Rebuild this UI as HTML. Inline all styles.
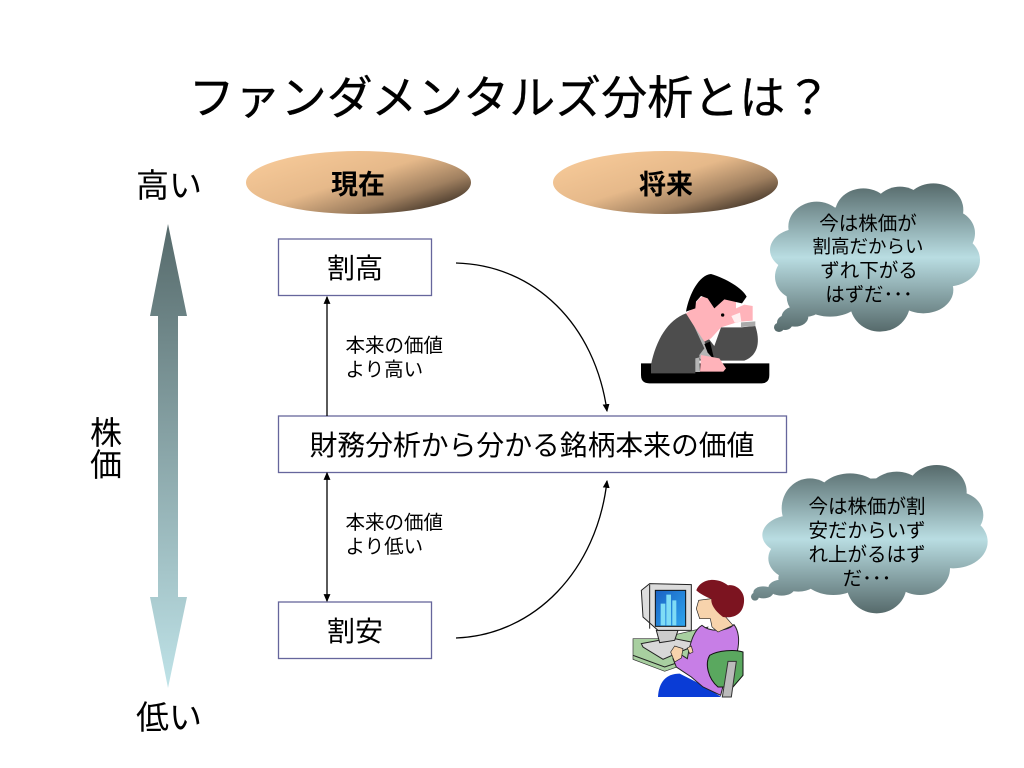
<!DOCTYPE html>
<html lang="ja"><head><meta charset="utf-8"><title>ファンダメンタルズ分析とは？</title>
<style>
html,body{margin:0;padding:0;background:#fff;width:1024px;height:768px;overflow:hidden}
svg{display:block}
text{font-family:"Liberation Sans","Noto Sans CJK JP",sans-serif;fill:#000;text-anchor:middle}
text.l{text-anchor:start}
</style></head><body>
<svg width="1024" height="768" viewBox="0 0 1024 768" xmlns="http://www.w3.org/2000/svg">
<defs>
<linearGradient id="eg" x1="0.1" y1="0.1" x2="0.95" y2="0.85">
<stop offset="0" stop-color="#f6c998"/><stop offset="0.45" stop-color="#e6b98a"/><stop offset="0.75" stop-color="#a08060"/><stop offset="1" stop-color="#3f3226"/></linearGradient>
<linearGradient id="ag" gradientUnits="userSpaceOnUse" x1="0" y1="224" x2="0" y2="688">
<stop offset="0" stop-color="#566a6b"/><stop offset="1" stop-color="#bfe3e8"/></linearGradient>
<linearGradient id="c1" gradientUnits="userSpaceOnUse" x1="0" y1="40" x2="0" y2="485">
<stop offset="0" stop-color="#566a6b"/><stop offset="0.5" stop-color="#b9dde2"/><stop offset="1" stop-color="#566a6b"/></linearGradient>
<linearGradient id="c2" gradientUnits="userSpaceOnUse" x1="0" y1="30" x2="0" y2="475">
<stop offset="0" stop-color="#566a6b"/><stop offset="0.5" stop-color="#b9dde2"/><stop offset="1" stop-color="#566a6b"/></linearGradient>
<linearGradient id="scr" x1="0" y1="0" x2="1" y2="1"><stop offset="0" stop-color="#1a62c4"/><stop offset="1" stop-color="#2ea6ee"/></linearGradient>
<marker id="ah" markerWidth="8" markerHeight="8" refX="6" refY="3" orient="auto-start-reverse" markerUnits="userSpaceOnUse" viewBox="0 0 7 6"><path d="M0,0L7,3L0,6Z" fill="#000"/></marker>
</defs>

<text x="510" y="114" font-size="46" stroke="#000" stroke-width=".3">ファンダメンタルズ分析とは？</text>

<text x="169" y="197" font-size="33">高い</text>
<text x="169" y="729" font-size="33">低い</text>
<text x="106" y="444" font-size="32">株</text>
<text x="106" y="476" font-size="32">価</text>

<path d="M168,224L187,316H178V597H187L168,688L150,597H158V316H150Z" fill="url(#ag)"/>

<ellipse cx="358.500" cy="182.500" rx="112.500" ry="31.500" fill="url(#eg)"/>
<ellipse cx="665.500" cy="182.500" rx="112.500" ry="31.500" fill="url(#eg)"/>
<text x="358" y="194" font-size="27" font-weight="bold">現在</text>
<text x="666" y="194" font-size="27" font-weight="bold">将来</text>

<g fill="#fff" stroke="#66669c" stroke-width="1.300">
<rect x="278.500" y="239" width="153" height="56.500"/>
<rect x="278.500" y="416" width="508" height="56.500"/>
<rect x="278.500" y="602" width="153" height="56.500"/>
</g>
<text x="355" y="278" font-size="28">割高</text>
<text x="532" y="455" font-size="27.800">財務分析から分かる銘柄本来の価値</text>
<text x="355" y="641" font-size="28">割安</text>

<g fill="none" stroke="#000" stroke-width="1.300">
<path d="M327,416V297" marker-end="url(#ah)"/>
<path d="M327,473V601" marker-start="url(#ah)" marker-end="url(#ah)"/>
<path d="M456,263C535,265 595,325 607,411" marker-end="url(#ah)"/>
<path d="M456,638C535,635 597,570 607,481" marker-end="url(#ah)"/>
</g>

<g font-size="19.500">
<text class="l" x="345.500" y="352">本来の価値</text>
<text class="l" x="345.500" y="376">より高い</text>
<text class="l" x="345.500" y="529">本来の価値</text>
<text class="l" x="345.500" y="553">より低い</text>
</g>

<!-- top cloud -->
<g transform="translate(630,170) scale(.33333)" fill="url(#c1)">
<ellipse cx="560" cy="170" rx="85" ry="75"/><ellipse cx="700" cy="130" rx="85" ry="75"/>
<ellipse cx="810" cy="120" rx="80" ry="70"/><ellipse cx="910" cy="120" rx="90" ry="80"/>
<ellipse cx="960" cy="190" rx="75" ry="70"/><ellipse cx="950" cy="270" rx="100" ry="80"/>
<ellipse cx="880" cy="360" rx="90" ry="70"/><ellipse cx="750" cy="400" rx="90" ry="85"/>
<ellipse cx="600" cy="370" rx="100" ry="70"/><ellipse cx="510" cy="320" rx="75" ry="70"/>
<ellipse cx="510" cy="240" rx="90" ry="65"/><ellipse cx="730" cy="260" rx="230" ry="170"/>
<ellipse cx="530" cy="380" rx="60" ry="60"/>
<ellipse cx="495" cy="440" rx="40" ry="30"/><ellipse cx="465" cy="458" rx="24" ry="22"/><ellipse cx="447" cy="472" rx="15" ry="14"/>
</g>
<g font-size="19.500">
<text x="868" y="230">今は株価が</text>
<text x="868" y="253" font-size="18.500">割高だからい</text>
<text x="869" y="277">ずれ下がる</text>
<text x="869" y="301">はずだ･･･</text>
</g>

<!-- bottom cloud -->
<g transform="translate(620,455) scale(.33333)" fill="url(#c2)">
<ellipse cx="570" cy="160" rx="85" ry="90"/><ellipse cx="690" cy="130" rx="100" ry="75"/>
<ellipse cx="830" cy="125" rx="90" ry="75"/><ellipse cx="950" cy="110" rx="90" ry="80"/>
<ellipse cx="1010" cy="180" rx="80" ry="70"/><ellipse cx="1000" cy="260" rx="103" ry="80"/>
<ellipse cx="900" cy="340" rx="90" ry="80"/><ellipse cx="770" cy="390" rx="90" ry="85"/>
<ellipse cx="640" cy="350" rx="100" ry="70"/><ellipse cx="530" cy="310" rx="85" ry="65"/>
<ellipse cx="520" cy="240" rx="93" ry="60"/><ellipse cx="770" cy="240" rx="250" ry="170"/>
<ellipse cx="535" cy="370" rx="60" ry="40"/>
<ellipse cx="485" cy="398" rx="40" ry="24"/><ellipse cx="430" cy="412" rx="30" ry="18"/><ellipse cx="405" cy="425" rx="12" ry="12"/>
</g>
<g font-size="19.500">
<text x="867" y="513">今は株価が割</text>
<text x="867" y="537">安だからいず</text>
<text x="867" y="561">れ上がるはず</text>
<text x="867" y="585">だ･･･</text>
</g>

<!-- man -->
<g transform="translate(636,270) scale(.33333)">
<path d="M15,280H400V315Q400,340 375,340H40Q15,340 15,315Z" fill="#000"/>
<path d="M45,310V285C60,210 95,150 150,130L190,170L235,228L255,172L315,172L358,168C372,210 370,255 325,272H180L178,310Z" fill="#4d4d4d"/>
<path d="M165,148L205,215L238,270H195L190,262L178,265V306H192L190,255L205,235Z" fill="#b5b5b5"/>
<path d="M205,222L222,215L235,270L215,248Z" fill="#000"/>
<path d="M205,80C180,80 180,115 150,130L172,165L205,215L225,205L255,172L300,158L315,155L350,152L350,108L325,104L300,115L300,90L265,88Z" fill="#ffb3ba"/>
<path d="M286,138L312,128L316,155L296,158Z" fill="#fff" opacity=".8"/>
<path d="M315,157L358,154V168L315,171Z" fill="#aaa"/>
<path d="M195,255L250,265L270,295L262,305H192Z" fill="#ffb3ba"/>
<path d="M150,125C160,70 190,15 225,12C270,25 320,55 332,80L318,100L265,88L235,115L215,85L195,78L180,95L178,115Z" fill="#000"/>
<circle cx="260" cy="135" r="5" fill="#000"/>
</g>

<!-- woman -->
<g transform="translate(628,572) scale(.33333)">
<path d="M15,200H90L240,165L190,270L110,298L15,262Z" fill="#a8cfa0" stroke="#333" stroke-width="2"/>
<path d="M15,250L110,285L190,258" fill="none" stroke="#222" stroke-width="3"/>
<path d="M40,215L130,198L190,210V225L105,262L45,225Z" fill="#d8d8d8" stroke="#222" stroke-width="3"/>
<path d="M85,175H150L140,205L95,212Z" fill="#ccc" stroke="#222" stroke-width="3"/>
<path d="M40,55L65,35L190,38V175H90L45,135Z" fill="#dcdcdc" stroke="#222" stroke-width="3"/>
<path d="M65,38V170" stroke="#222" stroke-width="3" fill="none"/>
<rect x="82" y="55" width="91" height="108" fill="url(#scr)" stroke="#111" stroke-width="3"/>
<path d="M98,95H112V160H98ZM115,68H129V160H115ZM133,85H145V160H133Z" fill="#7fdcf5"/>
<path d="M90,375C92,330 115,305 155,305L225,340L280,375Z" fill="#0a3cd6"/>
<path d="M222,160C245,180 295,180 318,158C335,180 335,215 325,250L300,285L278,370L225,345L190,315L145,285L135,260L162,250L178,260C185,220 195,175 222,160Z" fill="#c77ee6" stroke="#222" stroke-width="3"/>
<path d="M128,240L140,222L165,230L160,258L140,270Z" fill="#f7d3ac" stroke="#222" stroke-width="2"/>
<path d="M178,228L190,222L195,240L185,245Z" fill="#f7d3ac" stroke="#222" stroke-width="2"/>
<path d="M212,85L205,110L215,140L247,140L252,165L270,180L315,160L280,120L250,80Z" fill="#f7d3ac" stroke="#222" stroke-width="2"/>
<path d="M205,55C215,25 260,10 300,40C325,35 352,60 348,90C345,125 320,140 285,135C265,120 248,100 250,80C240,78 215,65 205,55Z" fill="#7c1420"/>
<path d="M245,250C270,235 320,232 345,240V310L315,345H270C240,320 230,275 245,250Z" fill="#5aa85f" stroke="#111" stroke-width="3"/>
<path d="M300,268H325L310,375H283Z" fill="#bbb" stroke="#333" stroke-width="3"/>
</g>
</svg>
</body></html>
